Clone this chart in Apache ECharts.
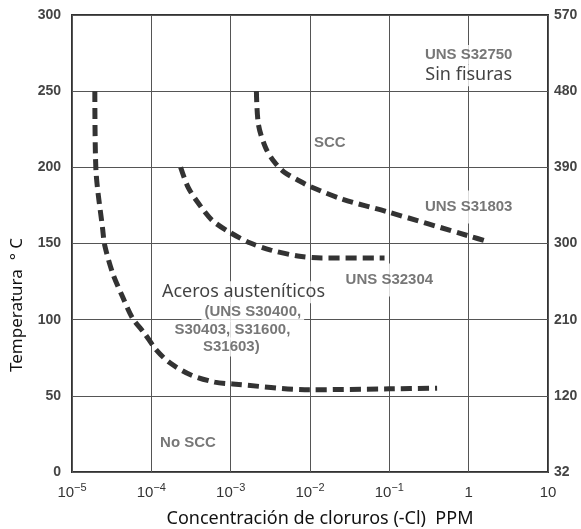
<!DOCTYPE html>
<html>
<head>
<meta charset="utf-8">
<script src="https://cdn.jsdelivr.net/npm/echarts@6/dist/echarts.min.js"></script>
<style>html,body{margin:0;padding:0;background:#fff;}#c{width:581px;height:529px;}</style>
</head>
<body>
<div id="c"></div>
<script>
// Curve: Aceros austeníticos (UNS S30400, S30403, S31600, S31603)
var austX = [1.94e-5, 2.0e-5, 2.44e-5, 2.58e-5, 3.25e-5, 4.34e-5, 5.79e-5, 8.2e-5, 1.16e-4, 1.73e-4, 3.16e-4, 6.3e-4, 1.06e-3, 1e-2, 0.1, 0.4];
var austY = [250, 199, 159, 149, 130.6, 115, 101, 91, 80, 71.5, 63.7, 59, 57.8, 54, 54.6, 55];
// Curve: UNS S32304
var s32304X = [2.34e-4, 2.9e-4, 3.9e-4, 5.8e-4, 1e-3, 1.77e-3, 3.2e-3, 7e-3, 0.014, 0.087];
var s32304Y = [200, 187, 176.6, 165.4, 157, 150.3, 145.7, 141.8, 140.5, 140.5];
// Curve: UNS S31803
var s31803X = [2.11e-3, 2.24e-3, 2.75e-3, 3.5e-3, 4.7e-3, 7.4e-3, 1e-2, 0.026, 0.092, 1, 1.8];
var s31803Y = [250, 228, 213, 204, 197, 191, 187.5, 179, 171, 155, 151];

// Tick labels
var leftTicks = [0, 50, 100, 150, 200, 250, 300];
var rightTickLabels = ['32', '120', '210', '300', '390', '480', '570'];
var xTickExponents = [-5, -4, -3, -2, -1, 0, 1];

// Annotations
var annotTexts = ['UNS S32750', 'Sin fisuras', 'SCC', 'UNS S31803', 'UNS S32304',
  'Aceros austeníticos', '(UNS S30400,', 'S30403, S31600,', 'S31603)', 'No SCC'];
var annotX = [1, 1, 0.0178, 1, 0.1, 0.00145, 0.0019, 0.00105, 0.00102, 0.00029];
var annotY = [274, 260.5, 216, 174, 126, 118, 105, 93, 82, 19];
var annotBold = [true, false, true, true, true, false, true, true, true, true];

var chart = echarts.init(document.getElementById('c'));

function pairs(xs, ys) { return xs.map(function (x, i) { return [x, ys[i]]; }); }

var dashStyle = { color: '#333', width: 5, type: [11, 6] };

var annotData = annotTexts.map(function (t, i) {
  var bold = annotBold[i];
  var tall = (t === 'UNS S31803' || t === 'UNS S32304');
  return {
    name: t,
    value: [annotX[i], annotY[i]],
    label: {
      fontFamily: bold ? 'Liberation Sans' : 'Noto Sans',
      fontWeight: bold ? 'bold' : 'normal',
      fontSize: bold ? 15 : 18,
      color: bold ? '#555' : '#111',
      padding: tall ? [9, 3] : [2, 3]
    }
  };
});

var option = {
  animation: false,
  backgroundColor: '#fff',
  grid: { left: 72, right: 33, top: 15, bottom: 57, outerBoundsMode: 'none', containLabel: false, show: true, borderColor: '#333', borderWidth: 2, backgroundColor: 'transparent' },
  xAxis: {
    type: 'log', logBase: 10, min: 1e-5, max: 10,
    name: 'Concentración de cloruros (-Cl)  PPM',
    nameLocation: 'middle', nameGap: 38,
    nameTextStyle: { fontFamily: 'Noto Sans', fontSize: 18, color: '#111', padding: [0, 0, 0, 20] },
    axisLine: { show: false }, axisTick: { show: false },
    splitLine: { show: true, lineStyle: { color: '#555', width: 1 } },
    minorSplitLine: { show: false },
    axisLabel: {
      margin: 10,
      formatter: function (v) {
        var e = Math.round(Math.log10(v));
        if (xTickExponents.indexOf(e) < 0) return '';
        if (e === 0) return '{b|1}';
        if (e === 1) return '{b|10}';
        return '{b|10}{s|\u2212' + (-e) + '}';
      },
      rich: {
        b: { fontFamily: 'Liberation Sans', fontSize: 15, color: '#333', verticalAlign: 'bottom', lineHeight: 18 },
        s: { fontFamily: 'Liberation Sans', fontSize: 11, color: '#333', verticalAlign: 'top', lineHeight: 18 }
      }
    }
  },
  yAxis: [{
    type: 'value', min: 0, max: 300, interval: 50,
    axisLine: { show: false }, axisTick: { show: false },
    splitLine: { show: true, lineStyle: { color: '#555', width: 1 } },
    axisLabel: {
      margin: 11, fontFamily: 'Liberation Sans', fontWeight: 'bold', fontSize: 14, color: '#444',
      formatter: function (v) { return leftTicks.indexOf(v) >= 0 ? String(v) : ''; }
    }
  }, {
    type: 'value', min: 0, max: 300, interval: 50, position: 'right',
    axisLine: { show: false }, axisTick: { show: false }, splitLine: { show: false },
    axisLabel: {
      margin: 6, fontFamily: 'Liberation Sans', fontWeight: 'bold', fontSize: 14, color: '#444',
      formatter: function (v) { var i = leftTicks.indexOf(v); return i >= 0 ? rightTickLabels[i] : ''; }
    }
  }],
  graphic: [{
    type: 'text', x: 17, y: 305, rotation: Math.PI / 2,
    style: { text: 'Temperatura  \u00b0 C', fontFamily: 'Noto Sans', fontSize: 17, fill: '#111', align: 'center', verticalAlign: 'middle' }
  }],
  series: [
    {
      type: 'scatter', z: 1, symbolSize: 0, silent: true,
      label: { show: true, position: 'inside', formatter: function (p) { return p.name; }, backgroundColor: '#fff', padding: [2, 3] },
      data: annotData
    },
    { type: 'line', z: 3, smooth: 0.3, symbol: 'none', lineStyle: dashStyle, data: pairs(austX, austY) },
    { type: 'line', z: 3, smooth: 0.3, symbol: 'none', lineStyle: dashStyle, data: pairs(s32304X, s32304Y) },
    { type: 'line', z: 3, smooth: 0.3, symbol: 'none', lineStyle: dashStyle, data: pairs(s31803X, s31803Y) }
  ]
};
chart.setOption(option);
</script>
</body>
</html>
